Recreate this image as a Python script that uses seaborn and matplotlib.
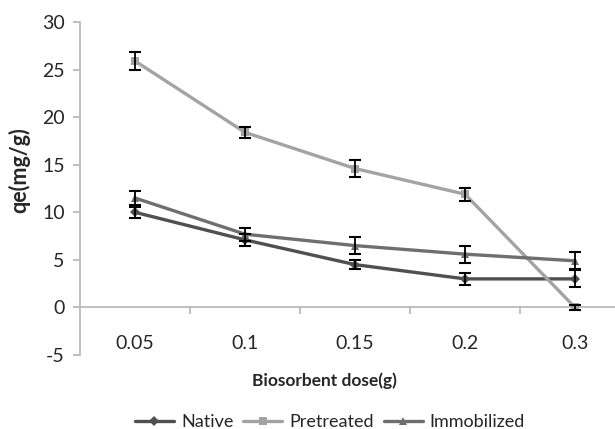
import numpy as np
import pandas as pd
import seaborn as sns
import matplotlib.pyplot as plt

doses = ["0.05", "0.1", "0.15", "0.2", "0.3"]
native = [10.0, 7.1, 4.5, 3.0, 3.0]
native_err = [0.6, 0.6, 0.5, 0.6, 0.9]
pretreated = [25.9, 18.4, 14.6, 11.9, 0.0]
pretreated_err = [0.9, 0.6, 0.9, 0.7, 0.3]
immobilized = [11.5, 7.7, 6.5, 5.6, 4.9]
immobilized_err = [0.7, 0.7, 0.9, 0.9, 0.9]

series = ["Native", "Pretreated", "Immobilized"]
values = {"Native": native, "Pretreated": pretreated, "Immobilized": immobilized}
errors = {"Native": native_err, "Pretreated": pretreated_err, "Immobilized": immobilized_err}
colors = {"Native": "#505050", "Pretreated": "#a3a3a3", "Immobilized": "#6f6f6f"}
markers = {"Native": "D", "Pretreated": "s", "Immobilized": "^"}

rows = []
for s in series:
    for i, d in enumerate(doses):
        rows.append({"pos": i, "dose": d, "qe": values[s][i], "err": errors[s][i], "series": s})
df = pd.DataFrame(rows)

sns.set_style("white")
plt.rcParams["font.family"] = ["Lato", "DejaVu Sans"]
plt.rcParams["axes.unicode_minus"] = False

fig = plt.figure(figsize=(6.15, 4.29), dpi=100)
# the plot area runs past the right edge of the picture, as in the original crop
ax = fig.add_axes([80 / 615, 1 - 355 / 429, 550 / 615, 333 / 429])

sns.lineplot(data=df, x="pos", y="qe", hue="series", style="series",
             palette=colors, markers=markers, dashes=False, linewidth=2.4,
             markersize=5.5, markeredgewidth=0, ax=ax, legend=True, zorder=3)

for s in series:
    sub = df[df["series"] == s]
    ax.errorbar(sub["pos"], sub["qe"], yerr=sub["err"], fmt="none",
                ecolor="black", elinewidth=1.3, capsize=4, capthick=1.5, zorder=4)

ax.set_ylim(-5, 30)
ax.set_xlim(-0.5, 4.5)
ax.set_yticks(np.arange(-5, 31, 5))
ax.set_xticks(range(len(doses)))
ax.set_xticklabels(doses)
ax.set_xticks([0.5, 1.5, 2.5, 3.5], minor=True)

for side in ["top", "right"]:
    ax.spines[side].set_visible(False)
ax.spines["bottom"].set_position(("data", 0))
for side in ["left", "bottom"]:
    ax.spines[side].set_color("#b5b5b5")
    ax.spines[side].set_linewidth(1.2)

ax.tick_params(axis="y", which="major", direction="out", length=5, width=1.2,
               color="#b5b5b5", labelsize=14, pad=6, left=True)
ax.tick_params(axis="x", which="major", length=0, labelsize=14, pad=19.5)
ax.tick_params(axis="x", which="minor", direction="out", length=5, width=1.2,
               color="#b5b5b5", bottom=True)

ax.set_xlabel("Biosorbent dose(g)", fontsize=12.5, fontweight="bold", labelpad=0)
ax.xaxis.set_label_coords((324 - 80) / 550, -0.051)
ax.set_ylabel("qe(mg/g)", fontsize=15.5, fontweight="bold")
ax.yaxis.set_label_coords(-0.091, 0.556)

handles, labels = ax.get_legend_handles_labels()
ax.legend(handles, labels, loc="center", bbox_to_anchor=(330 / 615, 7 / 429),
          bbox_transform=fig.transFigure, ncol=3, frameon=False,
          fontsize=13, handlelength=2.15, columnspacing=0.55, handletextpad=0.4)

fig.savefig("out.png", dpi=100)
